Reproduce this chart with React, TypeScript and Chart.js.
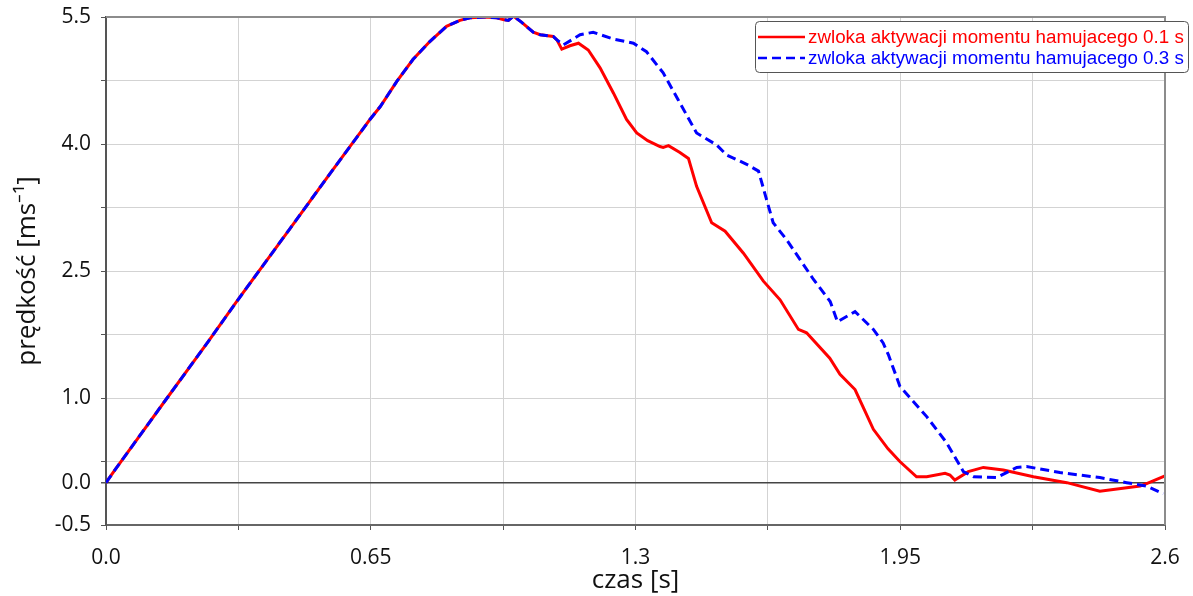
import React, { useEffect, useRef } from 'react';
import { Chart, registerables } from 'chart.js';
Chart.register(...registerables);

// shared acceleration phase (both curves overlap)
const riseTime = [0, 0.022, 0.067, 0.15, 0.25, 0.321, 0.45, 0.55, 0.648, 0.673, 0.714, 0.754, 0.795, 0.836, 0.869, 0.894, 0.93, 0.959, 0.975, 0.988, 1.0, 1.02, 1.049, 1.066, 1.098, 1.107];
const riseSpeed = [0, 0.15, 0.45, 1.0, 1.66, 2.14, 2.99, 3.65, 4.29, 4.44, 4.74, 5.0, 5.21, 5.39, 5.46, 5.49, 5.5, 5.49, 5.47, 5.46, 5.51, 5.44, 5.32, 5.29, 5.27, 5.23];

// delay 0.1 s
const redTime = [1.119, 1.139, 1.16, 1.184, 1.213, 1.246, 1.278, 1.303, 1.33, 1.36, 1.368, 1.381, 1.409, 1.43, 1.45, 1.487, 1.52, 1.565, 1.614, 1.655, 1.7, 1.72, 1.777, 1.802, 1.839, 1.86, 1.884, 1.92, 1.949, 1.99, 2.015, 2.06, 2.072, 2.084, 2.117, 2.154, 2.203, 2.277, 2.359, 2.44, 2.539, 2.555, 2.6];
const redSpeed = [5.12, 5.16, 5.19, 5.11, 4.9, 4.6, 4.29, 4.13, 4.04, 3.97, 3.96, 3.98, 3.9, 3.83, 3.5, 3.07, 2.97, 2.71, 2.38, 2.16, 1.81, 1.77, 1.47, 1.28, 1.1, 0.88, 0.63, 0.4, 0.25, 0.07, 0.07, 0.11, 0.09, 0.03, 0.13, 0.18, 0.15, 0.07, 0.0, -0.1, -0.04, -0.01, 0.08];

// delay 0.3 s
const blueTime = [1.123, 1.164, 1.196, 1.246, 1.295, 1.327, 1.368, 1.405, 1.45, 1.499, 1.524, 1.573, 1.602, 1.622, 1.638, 1.671, 1.737, 1.778, 1.796, 1.839, 1.884, 1.908, 1.921, 1.949, 2.015, 2.064, 2.105, 2.13, 2.187, 2.236, 2.26, 2.342, 2.44, 2.506, 2.555, 2.596];
const blueSpeed = [5.17, 5.29, 5.32, 5.24, 5.19, 5.09, 4.84, 4.52, 4.13, 3.99, 3.87, 3.76, 3.68, 3.34, 3.07, 2.87, 2.4, 2.14, 1.9, 2.02, 1.81, 1.65, 1.51, 1.14, 0.78, 0.47, 0.13, 0.07, 0.06, 0.18, 0.19, 0.12, 0.06, 0.0, -0.04, -0.13];

const xTickValues = [0, 0.325, 0.65, 0.975, 1.3, 1.625, 1.95, 2.275, 2.6];
const xTickLabels = ['0.0', '', '0.65', '', '1.3', '', '1.95', '', '2.6'];
const yTickValues = [-0.5, 0, 0.25, 1.0, 1.75, 2.5, 3.25, 4.0, 4.75, 5.5];
const yTickLabels = ['-0.5', '0.0', '', '1.0', '', '2.5', '', '4.0', '', '5.5'];

const seriesNames = ['zwloka aktywacji momentu hamujacego 0.1 s', 'zwloka aktywacji momentu hamujacego 0.3 s'];
const seriesColors = ['#ff0000', '#0000ff'];

const toPoints = (t: number[], v: number[]) => t.map((x, i) => ({ x, y: v[i] }));

const framePlugin = {
  id: 'frame',
  afterDraw(chart: any) {
    const { ctx, chartArea: a } = chart;
    ctx.save();
    ctx.strokeStyle = '#8c8c8c';
    ctx.lineWidth = 2;
    ctx.beginPath();
    ctx.moveTo(a.left, a.top);
    ctx.lineTo(a.right, a.top);
    ctx.lineTo(a.right, a.bottom);
    ctx.stroke();
    ctx.restore();
  },
};

const legendPlugin = {
  id: 'customLegend',
  afterDraw(chart: any) {
    const { ctx } = chart;
    const x0 = 755, y0 = 21, w = 433, h = 51;
    ctx.save();
    ctx.fillStyle = '#ffffff';
    ctx.strokeStyle = '#555555';
    ctx.lineWidth = 1;
    ctx.beginPath();
    if (ctx.roundRect) ctx.roundRect(x0 + 0.5, y0 + 0.5, w, h, 4);
    else ctx.rect(x0 + 0.5, y0 + 0.5, w, h);
    ctx.fill();
    ctx.stroke();
    ctx.font = '18.8px "Liberation Sans", Arial, sans-serif';
    ctx.textBaseline = 'middle';
    ctx.textAlign = 'left';
    const rows = [37, 58];
    rows.forEach((yy, i) => {
      ctx.strokeStyle = seriesColors[i];
      ctx.lineWidth = 2.5;
      ctx.setLineDash(i === 1 ? [9, 5] : []);
      ctx.beginPath();
      ctx.moveTo(758, yy);
      ctx.lineTo(805, yy);
      ctx.stroke();
      ctx.setLineDash([]);
      ctx.fillStyle = seriesColors[i];
      ctx.fillText(seriesNames[i], 808, yy + 1);
    });
    ctx.restore();
  },
};

export default function App() {
  const ref = useRef<HTMLCanvasElement>(null);
  useEffect(() => {
    document.body.style.margin = '0';
    const tickFont = { family: '"Open Sans", sans-serif', size: 21 };
    const titleFont = { family: '"Open Sans", sans-serif', size: 26 };
    const chart = new Chart(ref.current!, {
      type: 'line',
      data: {
        datasets: [
          {
            label: seriesNames[0],
            data: toPoints([...riseTime, ...redTime], [...riseSpeed, ...redSpeed]),
            borderColor: seriesColors[0],
            borderWidth: 3,
            pointRadius: 0,
            tension: 0,
            order: 1,
          },
          {
            label: seriesNames[1],
            data: toPoints([...riseTime, ...blueTime], [...riseSpeed, ...blueSpeed]),
            borderColor: seriesColors[1],
            borderWidth: 3,
            borderDash: [9, 5],
            pointRadius: 0,
            tension: 0,
            order: 0,
          },
        ],
      },
      options: {
        animation: false,
        responsive: false,
        layout: { padding: { top: 17, right: 28, left: 0, bottom: 0 } },
        plugins: { legend: { display: false }, tooltip: { enabled: false } },
        scales: {
          x: {
            type: 'linear',
            min: 0,
            max: 2.6,
            afterBuildTicks: (s: any) => { s.ticks = xTickValues.map((v) => ({ value: v })); },
            afterFit: (s: any) => { s.height = 71; s.paddingLeft = 0; s.paddingRight = 0; },
            ticks: {
              callback: (_v: any, i: number) => xTickLabels[i],
              autoSkip: false,
              maxRotation: 0,
              font: tickFont,
              color: '#111',
              padding: 15,
            },
            grid: { color: '#d3d3d3', tickColor: '#555', tickLength: 5, lineWidth: 1 },
            border: { color: '#666', width: 2 },
            title: { display: true, text: 'czas [s]', font: titleFont, color: '#111', padding: { top: -6, bottom: 0 } },
          },
          y: {
            type: 'linear',
            min: -0.5,
            max: 5.5,
            afterBuildTicks: (s: any) => { s.ticks = yTickValues.map((v) => ({ value: v })); },
            afterFit: (s: any) => { s.width = 106; s.paddingTop = 0; s.paddingBottom = 0; },
            ticks: {
              callback: (_v: any, i: number) => yTickLabels[i],
              autoSkip: false,
              font: tickFont,
              color: '#111',
              padding: 10,
            },
            grid: {
              color: (c: any) => (c.tick && c.tick.value === 0 ? '#444' : '#d3d3d3'),
              lineWidth: (c: any) => (c.tick && c.tick.value === 0 ? 1.5 : 1),
              tickColor: '#555',
              tickLength: 5,
            },
            border: { color: '#555', width: 2 },
            title: { display: true, text: 'prędkość [ms⁻¹]', font: titleFont, color: '#111', padding: { top: 12, bottom: 0 } },
          },
        },
      },
      plugins: [framePlugin, legendPlugin],
    } as any);
    return () => chart.destroy();
  }, []);
  return (
    <div style={{ width: 1193, height: 596, background: '#fff' }}>
      <canvas ref={ref} width={1193} height={596} style={{ display: 'block' }} />
    </div>
  );
}
